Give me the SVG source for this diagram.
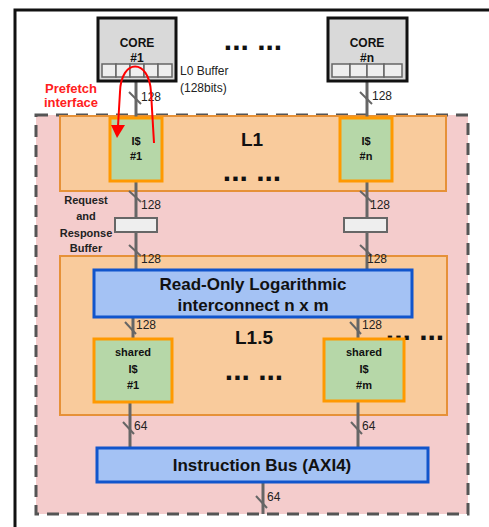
<svg xmlns="http://www.w3.org/2000/svg" width="489" height="527" viewBox="0 0 489 527">
<defs>
<style>
.wire{stroke:#666;stroke-width:3;fill:none}
.slash{stroke:#666;stroke-width:2;fill:none}
.lbl{font-family:"Liberation Sans",Arial,sans-serif;font-size:12px;fill:#222}
.bold{font-family:"Liberation Sans",Arial,sans-serif;font-weight:bold;fill:#111}
.core{fill:#d9d9d9;stroke:#111;stroke-width:3}
.cell{fill:#eeeeee;stroke:#666;stroke-width:1.5}
.icache{fill:#b6d7a8;stroke:#ff9900;stroke-width:3}
.level{fill:#f9cb9c;stroke:#e69138;stroke-width:2}
.bus{fill:#a4c2f4;stroke:#1155cc;stroke-width:3}
.buf{fill:#eeeeee;stroke:#666;stroke-width:2}
.dots{font-family:"Liberation Sans",Arial,sans-serif;font-weight:bold;font-size:30px;fill:#111}
</style>
</defs>
<rect width="489" height="527" fill="#ffffff"/>
<rect id="frame" x="15" y="10" width="490" height="540" fill="none" stroke="#111" stroke-width="3"/>
<g id="cluster">
<rect x="36" y="115" width="432" height="399" fill="#f4cccc" stroke="#555" stroke-width="3" stroke-dasharray="12,8"/>
</g>
<g id="L1">
<rect class="level" x="60" y="116" width="386" height="75"/>
<text class="bold" x="252" y="146" font-size="19" text-anchor="middle">L1</text>
<text class="dots" x="252" y="181" text-anchor="middle">... ...</text>
</g>
<g id="L1_5">
<rect class="level" x="60" y="256" width="387" height="159"/>
<text class="bold" x="254" y="344" font-size="19" text-anchor="middle">L1.5</text>
<text class="dots" x="254" y="380" text-anchor="middle">... ...</text>
<text class="dots" x="415" y="340" text-anchor="middle">... ...</text>
</g>
<g id="connectors">
<line class="wire" x1="136" y1="81" x2="136" y2="118"/>
<line class="slash" x1="129" y1="92" x2="141" y2="104"/>
<text class="lbl" x="141" y="101">128</text>
<line class="wire" x1="367" y1="81" x2="367" y2="118"/>
<line class="slash" x1="360" y1="92" x2="372" y2="104"/>
<text class="lbl" x="372" y="100">128</text>
<line class="wire" x1="136" y1="181" x2="136" y2="270"/>
<line class="slash" x1="129" y1="191" x2="141" y2="202"/>
<text class="lbl" x="141" y="209">128</text>
<line class="slash" x1="129" y1="245" x2="141" y2="256"/>
<text class="lbl" x="141" y="263">128</text>
<line class="wire" x1="367" y1="181" x2="367" y2="270"/>
<line class="slash" x1="360" y1="191" x2="372" y2="202"/>
<text class="lbl" x="370" y="209">128</text>
<line class="slash" x1="360" y1="245" x2="372" y2="256"/>
<text class="lbl" x="367" y="263">128</text>
<line class="wire" x1="133" y1="317" x2="133" y2="339"/>
<line class="slash" x1="125" y1="322" x2="136" y2="334"/>
<text class="lbl" x="136" y="329">128</text>
<line class="wire" x1="358" y1="317" x2="358" y2="339"/>
<line class="slash" x1="350" y1="322" x2="361" y2="334"/>
<text class="lbl" x="362" y="329">128</text>
<line class="wire" x1="130" y1="402" x2="130" y2="448"/>
<line class="slash" x1="123" y1="422" x2="134" y2="434"/>
<text class="lbl" x="134" y="430">64</text>
<line class="wire" x1="358" y1="402" x2="358" y2="448"/>
<line class="slash" x1="351" y1="422" x2="362" y2="434"/>
<text class="lbl" x="362" y="430">64</text>
<line class="wire" x1="263" y1="482" x2="263" y2="514"/>
<line class="slash" x1="256" y1="496" x2="267" y2="508"/>
<text class="lbl" x="267" y="501">64</text>
<rect class="buf" x="115" y="218" width="42" height="14"/>
<rect class="buf" x="344" y="218" width="43" height="14"/>
</g>
<g id="core1">
<rect class="core" x="98" y="18" width="78" height="63"/>
<text class="bold" x="137" y="47" font-size="12" text-anchor="middle">CORE</text>
<text class="bold" x="137" y="62" font-size="12" text-anchor="middle">#1</text>
<rect class="cell" x="102" y="64" width="14" height="13"/>
<rect class="cell" x="116" y="64" width="14" height="13"/>
<rect class="cell" x="130" y="64" width="14" height="13"/>
<rect class="cell" x="144" y="64" width="14" height="13"/>
<rect class="cell" x="158" y="64" width="14" height="13"/>
</g>
<g id="coren">
<rect class="core" x="328" y="18" width="79" height="63"/>
<text class="bold" x="367" y="47" font-size="12" text-anchor="middle">CORE</text>
<text class="bold" x="367" y="62" font-size="12" text-anchor="middle">#n</text>
<rect class="cell" x="332" y="64" width="18" height="13"/>
<rect class="cell" x="350" y="64" width="17" height="13"/>
<rect class="cell" x="367" y="64" width="17" height="13"/>
<rect class="cell" x="384" y="64" width="18" height="13"/>
</g>
<text class="dots" x="253" y="50" text-anchor="middle">... ...</text>
<text class="lbl" x="180" y="75" font-size="13">L0 Buffer</text>
<text class="lbl" x="180" y="92" font-size="13">(128bits)</text>
<text class="bold" x="71" y="93" font-size="13" text-anchor="middle" style="fill:#ff2020">Prefetch</text>
<text class="bold" x="71" y="107" font-size="13" text-anchor="middle" style="fill:#ff2020">interface</text>
<text class="bold" x="86" y="204" font-size="11" text-anchor="middle" style="fill:#222">Request</text>
<text class="bold" x="86" y="220" font-size="11" text-anchor="middle" style="fill:#222">and</text>
<text class="bold" x="86" y="237" font-size="11" text-anchor="middle" style="fill:#222">Response</text>
<text class="bold" x="86" y="252" font-size="11" text-anchor="middle" style="fill:#222">Buffer</text>
<g id="icache1">
<rect class="icache" x="110" y="118" width="52" height="63"/>
<text class="bold" x="136" y="145" font-size="11" text-anchor="middle">I$</text>
<text class="bold" x="136" y="160" font-size="11" text-anchor="middle">#1</text>
</g>
<g id="icachen">
<rect class="icache" x="340" y="118" width="52" height="63"/>
<text class="bold" x="366" y="145" font-size="11" text-anchor="middle">I$</text>
<text class="bold" x="366" y="160" font-size="11" text-anchor="middle">#n</text>
</g>
<g id="interconnect">
<rect class="bus" x="94" y="270" width="318" height="47"/>
<text class="bold" x="253" y="290" font-size="17" text-anchor="middle">Read-Only Logarithmic</text>
<text class="bold" x="253" y="311" font-size="17" text-anchor="middle">interconnect n x m</text>
</g>
<g id="shared1">
<rect class="icache" x="94" y="339" width="78" height="63"/>
<text class="bold" x="133" y="356" font-size="11" text-anchor="middle">shared</text>
<text class="bold" x="133" y="373" font-size="11" text-anchor="middle">I$</text>
<text class="bold" x="133" y="389" font-size="11" text-anchor="middle">#1</text>
</g>
<g id="sharedm">
<rect class="icache" x="324" y="339" width="80" height="62"/>
<text class="bold" x="364" y="356" font-size="11" text-anchor="middle">shared</text>
<text class="bold" x="364" y="373" font-size="11" text-anchor="middle">I$</text>
<text class="bold" x="364" y="389" font-size="11" text-anchor="middle">#m</text>
</g>
<g id="instrbus">
<rect class="bus" x="97" y="448" width="331" height="34"/>
<text class="bold" x="262" y="471" font-size="17" text-anchor="middle">Instruction Bus (AXI4)</text>
</g>
<g id="prefetch">
<path d="M154,143 L151,92 C149,58 121,58 120,92 L118,126" fill="none" stroke="#ff0000" stroke-width="2"/>
<polygon points="111,125 125,125 117,138" fill="#ff0000"/>
</g>
</svg>
